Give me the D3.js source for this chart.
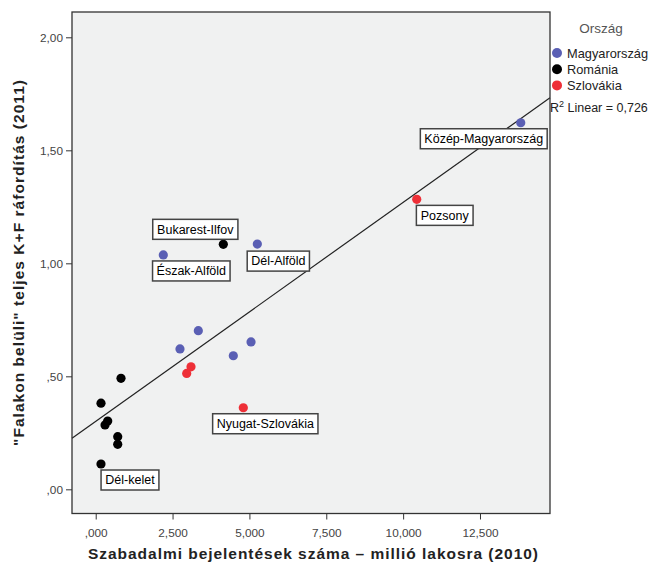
<!DOCTYPE html>
<html><head><meta charset="utf-8">
<script src="https://cdn.jsdelivr.net/npm/d3@7"></script>
<style>body{margin:0;background:#fff;}svg{display:block;font-family:"Liberation Sans",Arial,sans-serif;}</style>
</head><body>
<script>
// ---- data ----
const countries = ["Magyarország", "Románia", "Szlovákia"];
const countryColors = ["#5a5fb4", "#000000", "#ee2f37"];
const pointCountry = ["Magyarország","Magyarország","Magyarország","Magyarország","Magyarország","Magyarország","Magyarország",
  "Szlovákia","Szlovákia","Szlovákia","Szlovákia",
  "Románia","Románia","Románia","Románia","Románia","Románia","Románia","Románia"];
const patents = [13826, 5257, 2199, 3338, 2742, 4476, 5052,
  10442, 3100, 2960, 4801,
  4151, 823, 172, 390, 303, 716, 716, 172];
const rdSpending = [1.622, 1.085, 1.037, 0.702, 0.621, 0.591, 0.652,
  1.283, 0.542, 0.513, 0.361,
  1.084, 0.491, 0.381, 0.302, 0.285, 0.233, 0.199, 0.112];
const pointLabels = ["Közép-Magyarország","Dél-Alföld","Észak-Alföld","","","","",
  "Pozsony","","","Nyugat-Szlovákia",
  "Bukarest-Ilfov","","","","","","","Dél-kelet"];
const xTickValues = [0, 2500, 5000, 7500, 10000, 12500];
const xTickLabels = [",000", "2,500", "5,000", "7,500", "10,000", "12,500"];
const yTickValues = [0, 0.5, 1, 1.5, 2];
const yTickLabels = [",00", ",50", "1,00", "1,50", "2,00"];
const fitIntercept = 0.3004, fitSlope = 0.00009693, rSquared = "0,726";
const xTitle = "Szabadalmi bejelentések száma – millió lakosra (2010)";
const yTitle = "\"Falakon belüli\" teljes K+F ráfordítás  (2011)";
const legendTitle = "Ország";

// ---- layout ----
const W = 653, H = 567;
const svg = d3.select("body").append("svg").attr("width", W).attr("height", H);
const x = d3.scaleLinear().domain([-771, 14777]).range([72, 550]);
const y = d3.scaleLinear().domain([-0.107, 2.112]).range([513.5, 12]);
const color = d3.scaleOrdinal().domain(countries).range(countryColors);

svg.append("rect").attr("x", 72).attr("y", 12).attr("width", 478).attr("height", 501.5)
  .attr("fill", "#f0f1f1");

// axes
const xAxis = d3.axisBottom(x).tickValues(xTickValues).tickSize(6).tickPadding(9)
  .tickFormat((d, i) => xTickLabels[i]);
const gx = svg.append("g").attr("transform", "translate(0,513.5)").call(xAxis);
const yAxis = d3.axisLeft(y).tickValues(yTickValues).tickSize(6).tickPadding(3)
  .tickFormat((d, i) => yTickLabels[i]);
const gy = svg.append("g").attr("transform", "translate(72,0)").call(yAxis);
[gx, gy].forEach(g => {
  g.select(".domain").remove();
  g.selectAll(".tick line").attr("stroke", "#333");
  g.selectAll(".tick text").attr("fill", "#444").style("font-size", "11.8px")
    .style("font-family", "\"Liberation Sans\",Arial,sans-serif");
});

// regression line
const x0 = x.domain()[0], x1 = x.domain()[1];
svg.append("line")
  .attr("x1", x(x0)).attr("y1", y(fitIntercept + fitSlope * x0))
  .attr("x2", x(x1)).attr("y2", y(fitIntercept + fitSlope * x1))
  .attr("stroke", "#222").attr("stroke-width", 1.2);

// frame
svg.append("rect").attr("x", 72).attr("y", 12).attr("width", 478).attr("height", 501.5)
  .attr("fill", "none").attr("stroke", "#333").attr("stroke-width", 1.3);

// points
const pts = patents.map((v, i) => ({x: v, y: rdSpending[i], c: pointCountry[i], label: pointLabels[i]}));
svg.append("g").selectAll("circle").data(pts).join("circle")
  .attr("cx", d => x(d.x)).attr("cy", d => y(d.y)).attr("r", 4.6)
  .attr("fill", d => color(d.c));

// point labels (box center offset from point)
const labelOffset = {
  "Közép-Magyarország": [-37, 16], "Dél-Alföld": [21, 17], "Észak-Alföld": [28, 16],
  "Pozsony": [28, 16], "Nyugat-Szlovákia": [22, 16], "Bukarest-Ilfov": [-28, -15], "Dél-kelet": [29, 16]
};
pts.filter(d => d.label).forEach(d => {
  const off = labelOffset[d.label];
  const cx = x(d.x) + off[0], cy = y(d.y) + off[1];
  const g = svg.append("g");
  const t = g.append("text").attr("x", cx).attr("y", cy + 4.3).attr("text-anchor", "middle")
    .style("font-size", "12.5px").attr("fill", "#000").text(d.label);
  const bb = t.node().getBBox();
  g.insert("rect", "text").attr("x", cx - bb.width / 2 - 4).attr("y", cy - 10)
    .attr("width", bb.width + 8).attr("height", 20)
    .attr("fill", "#fff").attr("stroke", "#444").attr("stroke-width", 1.5);
});

// axis titles
svg.append("text").attr("x", 313).attr("y", 559).attr("text-anchor", "middle")
  .attr("textLength", 450).attr("lengthAdjust", "spacing")
  .style("font-size", "15.5px").style("font-weight", "bold").attr("fill", "#222").text(xTitle);
svg.append("text").attr("transform", "translate(24,263) rotate(-90)").attr("text-anchor", "middle")
  .attr("textLength", 366).attr("lengthAdjust", "spacing")
  .style("font-size", "15.5px").style("font-weight", "bold").attr("fill", "#222").text(yTitle);

// legend
svg.append("text").attr("x", 601).attr("y", 33).attr("text-anchor", "middle")
  .style("font-size", "13.5px").attr("fill", "#555").text(legendTitle);
const lg = svg.append("g").selectAll("g").data(countries).join("g")
  .attr("transform", (d, i) => `translate(557,${53 + i * 16.2})`);
lg.append("circle").attr("r", 5).attr("fill", d => color(d));
lg.append("text").attr("x", 10).attr("y", 4.5).style("font-size", "12.8px").attr("fill", "#222").text(d => d);
const r2 = svg.append("text").attr("x", 550).attr("y", 112).style("font-size", "12.5px").attr("fill", "#222");
r2.append("tspan").text("R");
r2.append("tspan").attr("dy", -5).style("font-size", "9px").text("2");
r2.append("tspan").attr("dy", 5).text(" Linear = " + rSquared);
</script>
</body></html>
